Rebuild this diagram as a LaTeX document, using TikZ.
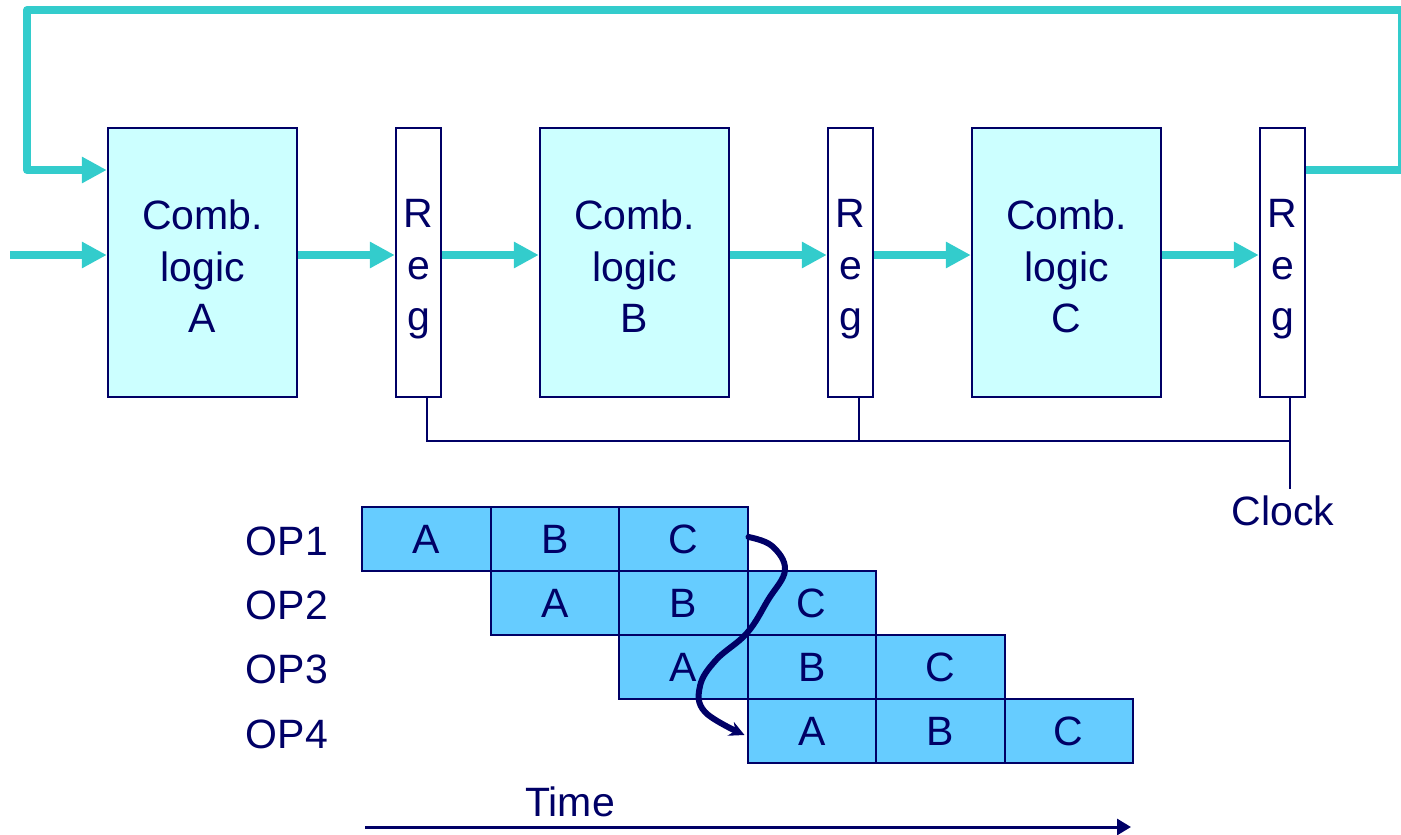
\documentclass[tikz,border=0pt]{standalone}
\usepackage{fontspec}
\setmainfont{Liberation Sans}
\usetikzlibrary{arrows.meta,calc}
\definecolor{navy}{HTML}{000066}
\definecolor{combfill}{HTML}{CCFFFF}
\definecolor{cellfill}{HTML}{66CCFF}
\definecolor{wire}{HTML}{33CCCC}
\begin{document}
\begin{tikzpicture}[x=1pt,y=-1pt,
  txt/.style={text=navy,font=\fontsize{41}{51.5}\selectfont,align=center},
  comb/.style={draw=navy,line width=2.5pt,fill=combfill,minimum width=189pt,minimum height=269pt,inner sep=0pt},
  reg/.style={draw=navy,line width=2.5pt,fill=white,minimum width=45pt,minimum height=269pt,inner sep=0pt},
  combtxt/.style={txt,inner sep=0pt,yshift=-4pt},
  regtxt/.style={txt,inner sep=0pt,yshift=-7pt},
  cell/.style={txt,draw=navy,line width=2pt,fill=cellfill,minimum width=128.5pt,minimum height=64pt,inner sep=0pt},
  flow/.style={wire,line width=8pt,-{Triangle[length=25pt,width=25pt]}},
  clk/.style={navy,line width=2pt},
  oplabel/.style={txt,anchor=east,inner sep=0pt}]
\useasboundingbox (0,0) rectangle (1401,835);

% top pipeline
\node[comb] (A) at (202.5,262.5) {};
\node[reg]  (R1) at (418.5,262.5) {};
\node[comb] (B) at (634.5,262.5) {};
\node[reg]  (R2) at (850.5,262.5) {};
\node[comb] (C) at (1066.5,262.5) {};
\node[reg]  (R3) at (1282.5,262.5) {};
\node[combtxt] (At) at (A.center) {Comb.\\logic\\A};
\node[combtxt] (Bt) at (B.center) {Comb.\\logic\\B};
\node[combtxt] (Ct) at (C.center) {Comb.\\logic\\C};
\node[regtxt] (R1t) at (R1.center) {R\\e\\g};
\node[regtxt] (R2t) at (R2.center) {R\\e\\g};
\node[regtxt] (R3t) at (R3.center) {R\\e\\g};

\coordinate (in) at (10,255);
\coordinate (fb) at (27,170);
\draw[flow] (in) -- (A.west |- in);
\draw[flow] (A.east |- in) -- (R1.west |- in);
\draw[flow] (R1.east |- in) -- (B.west |- in);
\draw[flow] (B.east |- in) -- (R2.west |- in);
\draw[flow] (R2.east |- in) -- (C.west |- in);
\draw[flow] (C.east |- in) -- (R3.west |- in);
\draw[flow,line join=round] (R3.east |- fb) -- (1402,170) -- (1402,10) -- (27,10) -- (fb) -- (A.west |- fb);

% clock
\coordinate (k1) at ($(R1.south west)!0.68!(R1.south east)$);
\coordinate (k2) at ($(R2.south west)!0.68!(R2.south east)$);
\coordinate (k3) at ($(R3.south west)!0.66!(R3.south east)$);
\coordinate (kb) at (0,441);
\node[txt,inner sep=0pt] (clock) at (1283,511) {Clock};
\draw[clk] (k1) -- (k1 |- kb) -- (k3 |- kb) -- (k3);
\draw[clk] (k2) -- (k2 |- kb);
\draw[clk] (k3 |- kb) -- ($(k3 |- kb)+(0,48)$);

% timing chart
\node[cell] (c11) at (426.25,539) {A};
\node[cell] (c12) at (554.75,539) {B};
\node[cell] (c13) at (683.25,539) {C};
\node[cell] (c21) at (554.75,603) {A};
\node[cell] (c22) at (683.25,603) {B};
\node[cell] (c23) at (811.75,603) {C};
\node[cell] (c31) at (683.25,667) {A};
\node[cell] (c32) at (811.75,667) {B};
\node[cell] (c33) at (940.25,667) {C};
\node[cell] (c41) at (811.75,731) {A};
\node[cell] (c42) at (940.25,731) {B};
\node[cell] (c43) at (1068.75,731) {C};

\node[oplabel] (op1) at (328,541) {OP1};
\node[oplabel] (op2) at (328,605) {OP2};
\node[oplabel] (op3) at (328,669) {OP3};
\node[oplabel] (op4) at (328,734) {OP4};

\coordinate (cs) at ($(c13.east)+(0,-2)$);
\coordinate (ce) at ($(c41.west)+(-2,4)$);
\draw[navy,line width=6pt,line cap=round,-{Stealth[length=15pt,width=15pt]}]
  plot[smooth,tension=0.65] coordinates {(cs) (772,546) (785,570) (768,600) (747,633) (716,660) (700,686) (705,712) (ce)};

% time axis
\node[txt,inner sep=0pt] (time) at (570,802) {Time};
\coordinate (t0) at (365,827);
\coordinate (t1) at (1131,827);
\draw[navy,line width=3pt,-{Triangle[length=14pt,width=16pt]}] (t0) -- (t1);
\end{tikzpicture}
\end{document}
